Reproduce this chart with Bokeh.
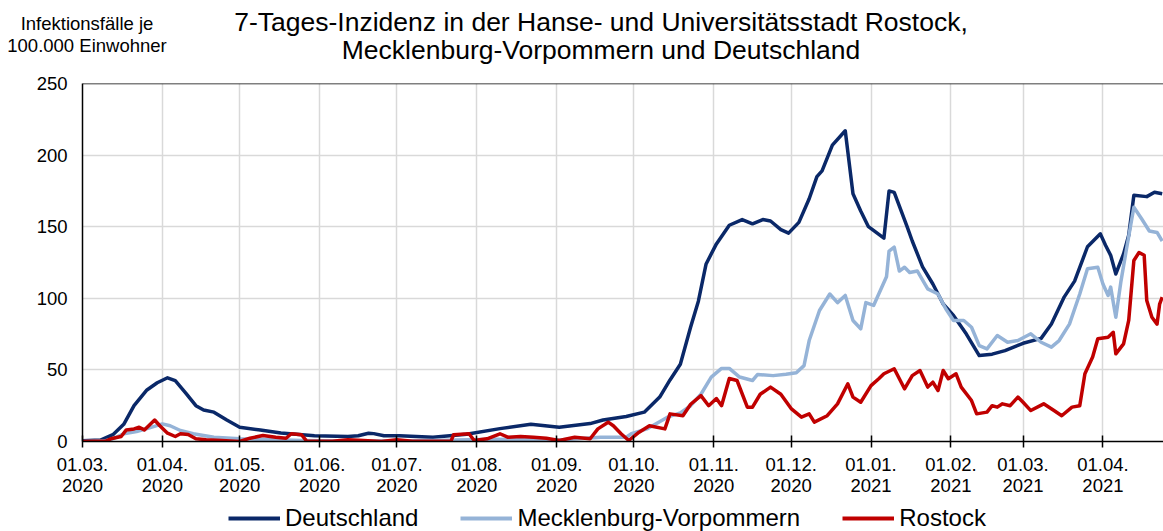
import pandas as pd
from bokeh.plotting import figure
from bokeh.layouts import column
from bokeh.models import FixedTicker, Range1d, Legend, LegendItem, Span, Div
from bokeh.embed import file_html
from bokeh.resources import INLINE

# ---------------- data ----------------
start_date = "2020-03-01"
end_date = "2021-04-24"

month_starts = ["2020-03-01", "2020-04-01", "2020-05-01", "2020-06-01", "2020-07-01",
                "2020-08-01", "2020-09-01", "2020-10-01", "2020-11-01", "2020-12-01",
                "2021-01-01", "2021-02-01", "2021-03-01", "2021-04-01"]
month_labels = ["01.03.\n2020", "01.04.\n2020", "01.05.\n2020", "01.06.\n2020", "01.07.\n2020",
                "01.08.\n2020", "01.09.\n2020", "01.10.\n2020", "01.11.\n2020", "01.12.\n2020",
                "01.01.\n2021", "01.02.\n2021", "01.03.\n2021", "01.04.\n2021"]
y_ticks = [0, 50, 100, 150, 200, 250]

de_dates = ["2020-03-01", "2020-03-08", "2020-03-13", "2020-03-17", "2020-03-21", "2020-03-26",
            "2020-03-30", "2020-04-03", "2020-04-06", "2020-04-10", "2020-04-14", "2020-04-17",
            "2020-04-21", "2020-04-26", "2020-05-01", "2020-05-09", "2020-05-17", "2020-05-30",
            "2020-06-12", "2020-06-16", "2020-06-20", "2020-06-22", "2020-06-26", "2020-07-02",
            "2020-07-15", "2020-07-28", "2020-08-10", "2020-08-22", "2020-09-02", "2020-09-14",
            "2020-09-19", "2020-09-28", "2020-10-05", "2020-10-11", "2020-10-15", "2020-10-19",
            "2020-10-23", "2020-10-26", "2020-10-29", "2020-11-02", "2020-11-07", "2020-11-12",
            "2020-11-16", "2020-11-20", "2020-11-23", "2020-11-27", "2020-11-30", "2020-12-04",
            "2020-12-08", "2020-12-11", "2020-12-13", "2020-12-17", "2020-12-22", "2020-12-25",
            "2020-12-28", "2020-12-31", "2021-01-06", "2021-01-08", "2021-01-10", "2021-01-15",
            "2021-01-17", "2021-01-21", "2021-01-25", "2021-01-29", "2021-02-02", "2021-02-07",
            "2021-02-12", "2021-02-17", "2021-02-22", "2021-03-01", "2021-03-08", "2021-03-12",
            "2021-03-17", "2021-03-21", "2021-03-26", "2021-03-31", "2021-04-02", "2021-04-04",
            "2021-04-06", "2021-04-09", "2021-04-11", "2021-04-13", "2021-04-18", "2021-04-21",
            "2021-04-24"]
de_vals = [0.5, 1, 5, 12, 25, 36, 41, 44.5, 42.5, 34, 25, 22, 20.5, 15, 10, 8, 6, 4,
           3.5, 4, 5.8, 5.5, 4, 4, 3, 5, 9, 12, 10, 12.5, 15, 17.5, 20.5, 31, 43, 54,
           80, 98, 124, 138, 151, 155, 152, 155, 154, 148, 145.5, 153, 169.5, 185, 189, 207,
           217, 173, 161, 150, 142, 175, 174, 150, 140, 122, 110, 96, 88, 75, 60, 61, 63.5,
           68.6, 72, 82, 101, 112, 136, 145, 137, 130, 117, 131, 144, 172, 171, 174, 173]

mv_dates = ["2020-03-01", "2020-03-10", "2020-03-13", "2020-03-17", "2020-03-22", "2020-03-27",
            "2020-04-01", "2020-04-04", "2020-04-08", "2020-04-13", "2020-04-21", "2020-05-01",
            "2020-05-12", "2020-05-25", "2020-06-09", "2020-07-09", "2020-08-08", "2020-09-02",
            "2020-09-18", "2020-09-28", "2020-09-30", "2020-10-06", "2020-10-14", "2020-10-19",
            "2020-10-23", "2020-10-27", "2020-10-31", "2020-11-04", "2020-11-07", "2020-11-11",
            "2020-11-16", "2020-11-18", "2020-11-24", "2020-11-29", "2020-12-03", "2020-12-06",
            "2020-12-08", "2020-12-12", "2020-12-16", "2020-12-19", "2020-12-22", "2020-12-25",
            "2020-12-28", "2020-12-30", "2021-01-02", "2021-01-05", "2021-01-07", "2021-01-08",
            "2021-01-10", "2021-01-12", "2021-01-14", "2021-01-16", "2021-01-19", "2021-01-23",
            "2021-01-27", "2021-01-30", "2021-02-02", "2021-02-06", "2021-02-09", "2021-02-12",
            "2021-02-15", "2021-02-19", "2021-02-23", "2021-02-27", "2021-03-04", "2021-03-08",
            "2021-03-12", "2021-03-15", "2021-03-19", "2021-03-23", "2021-03-26", "2021-03-30",
            "2021-04-01", "2021-04-03", "2021-04-04", "2021-04-06", "2021-04-08", "2021-04-10",
            "2021-04-13", "2021-04-16", "2021-04-19", "2021-04-22", "2021-04-24"]
mv_vals = [0, 0.5, 2, 5.4, 7, 9.5, 12.3, 11, 7.7, 5.4, 3, 1.9, 1.4, 0.7, 0.3, 0.5, 1.5, 1,
           3, 3, 5.4, 8.8, 17, 20, 25, 33, 45, 51, 51, 45, 42.6, 46.8, 46, 47, 48, 53,
           70.5, 91.5, 103, 97, 102, 84.5, 78.7, 97, 95, 107, 115, 133, 135.7, 119, 121.7, 118,
           119, 106.6, 103, 92.7, 84.5, 84.5, 79.8, 67, 64.7, 74, 69.3, 70.5, 75.2, 69.3,
           65.9, 70.5, 82, 103, 120.6, 121.7, 110, 102, 107.8, 86.8, 112, 133, 163.6, 155.5,
           147, 146, 140]

hro_dates = ["2020-03-01", "2020-03-10", "2020-03-12", "2020-03-16", "2020-03-18", "2020-03-21",
             "2020-03-23", "2020-03-25", "2020-03-29", "2020-03-31", "2020-04-03", "2020-04-06",
             "2020-04-08", "2020-04-11", "2020-04-14", "2020-04-18", "2020-04-24", "2020-05-01",
             "2020-05-05", "2020-05-10", "2020-05-15", "2020-05-19", "2020-05-21", "2020-05-25",
             "2020-05-27", "2020-06-06", "2020-06-12", "2020-06-18", "2020-06-25", "2020-07-01",
             "2020-07-07", "2020-07-22", "2020-07-23", "2020-07-29", "2020-07-31", "2020-08-05",
             "2020-08-10", "2020-08-13", "2020-08-18", "2020-08-23", "2020-08-28", "2020-09-02",
             "2020-09-08", "2020-09-14", "2020-09-17", "2020-09-21", "2020-09-23", "2020-09-26",
             "2020-09-29", "2020-10-03", "2020-10-07", "2020-10-13", "2020-10-15", "2020-10-20",
             "2020-10-23", "2020-10-27", "2020-10-30", "2020-11-02", "2020-11-04", "2020-11-07",
             "2020-11-10", "2020-11-14", "2020-11-16", "2020-11-19", "2020-11-23", "2020-11-27",
             "2020-12-01", "2020-12-05", "2020-12-08", "2020-12-10", "2020-12-15", "2020-12-19",
             "2020-12-23", "2020-12-25", "2020-12-28", "2021-01-01", "2021-01-04", "2021-01-06",
             "2021-01-10", "2021-01-14", "2021-01-17", "2021-01-20", "2021-01-23", "2021-01-25",
             "2021-01-27", "2021-01-29", "2021-01-31", "2021-02-03", "2021-02-05", "2021-02-09",
             "2021-02-11", "2021-02-15", "2021-02-17", "2021-02-19", "2021-02-21", "2021-02-24",
             "2021-02-27", "2021-03-01", "2021-03-04", "2021-03-09", "2021-03-13", "2021-03-16",
             "2021-03-20", "2021-03-23", "2021-03-25", "2021-03-28", "2021-03-30", "2021-04-03",
             "2021-04-05", "2021-04-06", "2021-04-09", "2021-04-11", "2021-04-13", "2021-04-15",
             "2021-04-17", "2021-04-18", "2021-04-20", "2021-04-22", "2021-04-23", "2021-04-24"]
hro_vals = [0, 0.3, 1.9, 3.5, 8.1, 8.8, 10, 8.1, 15, 11, 5.8, 3.5, 5.4, 4.9, 1.9, 1.2, 0.7, 0,
            2.3, 4.2, 3, 2.3, 5.4, 4.7, 0.2, 0.2, 1.2, 0.7, 0, 1.2, 0.2, 0.2, 4.7, 5.4, 0.7, 1.9,
            5.4, 3, 3.5, 3, 2.3, 0.7, 3, 1.9, 8.8, 13.5, 11, 5.4, 0.7, 6.5, 11, 8.8, 19.3, 18,
            26, 32, 25, 30, 25, 44, 42.6, 24, 24, 33, 38, 33, 23, 17, 19.3, 13.5, 18, 26.3,
            40.3, 31, 27.4, 39, 43.8, 47.3, 50.8, 36.8, 46, 49.6, 38, 41.4, 35.6, 49.6, 43.8, 47.3,
            38, 28.6, 19.3, 20.5, 25, 24, 26.3, 25, 31, 27.4, 21.6, 26.3, 21.6, 18, 24, 25,
            47.3, 59, 71.7, 72.8, 76.3, 61.2, 68.2, 84.5, 126.4, 132, 130, 98.5, 86.8, 82, 96, 100.8]

series_names = ["Deutschland", "Mecklenburg-Vorpommern", "Rostock"]
series_colors = ["#0A2868", "#95B3D7", "#C00000"]

title_lines = ["7-Tages-Inzidenz in der Hanse- und Universitätsstadt Rostock,",
               "Mecklenburg-Vorpommern und Deutschland"]
ylabel_lines = ["Infektionsfälle je", "100.000 Einwohner"]

# ---------------- helpers ----------------
t0 = pd.Timestamp(start_date)


def to_days(dates):
    return [(pd.Timestamp(d) - t0).days for d in dates]


FONT = "Liberation Sans"
W = 1163
HEAD_H = 68
TOP_PAD = 83 - HEAD_H
LEFT = 82
FRAME_W = W - LEFT
FRAME_H = 358

# ---------------- header: title + y-axis caption ----------------
head_html = (
    f'<div style="position:relative;width:{W}px;height:{HEAD_H}px;'
    f'font-family:\'{FONT}\';color:black;">'
    f'<div style="position:absolute;left:201px;top:8px;width:800px;text-align:center;'
    f'font-size:26.5px;line-height:28px;white-space:nowrap;">'
    f'{title_lines[0]}<br>{title_lines[1]}</div>'
    f'<div style="position:absolute;left:0px;top:12.75px;width:174px;text-align:center;'
    f'font-size:18.5px;line-height:22.5px;white-space:nowrap;">'
    f'{ylabel_lines[0]}<br>{ylabel_lines[1]}</div>'
    f'</div>'
)
head = Div(text=head_html, width=W, height=HEAD_H, margin=(0, 0, 0, 0))

# ---------------- main chart ----------------
month_x = to_days(month_starts)
x_end = (pd.Timestamp(end_date) - t0).days + 0.5

p = figure(frame_width=FRAME_W, frame_height=FRAME_H, min_border_left=LEFT, min_border_top=TOP_PAD,
           min_border_right=0, min_border_bottom=0,
           x_range=Range1d(0, x_end), y_range=Range1d(0, 250),
           output_backend="svg", toolbar_location=None)
p.outline_line_color = None
p.background_fill_color = "white"
p.border_fill_color = "white"

p.xaxis.ticker = FixedTicker(ticks=month_x)
p.xaxis.major_label_overrides = {x: lbl for x, lbl in zip(month_x, month_labels)}
p.xaxis.major_tick_in = 6
p.xaxis.major_tick_out = 6
p.xaxis.minor_tick_line_color = None
p.xaxis.major_tick_line_width = 1.5
p.xaxis.major_tick_line_color = "black"
p.xaxis.axis_line_color = "black"
p.xaxis.axis_line_width = 1.5
p.xaxis.major_label_standoff = 6
p.xaxis.major_label_text_font = FONT
p.xaxis.major_label_text_font_size = "18.5px"
p.xaxis.major_label_text_line_height = 1.0
p.xaxis.major_label_text_color = "black"

p.yaxis.ticker = FixedTicker(ticks=y_ticks)
p.yaxis.major_tick_in = 0
p.yaxis.major_tick_out = 0
p.yaxis.minor_tick_line_color = None
p.yaxis.axis_line_color = "black"
p.yaxis.axis_line_width = 1.5
p.yaxis.major_label_standoff = 15
p.yaxis.major_label_text_font = FONT
p.yaxis.major_label_text_font_size = "18.5px"
p.yaxis.major_label_text_color = "black"

p.xgrid.grid_line_color = "#D9D9D9"
p.xgrid.grid_line_width = 1.5
p.ygrid.grid_line_color = "#D9D9D9"
p.ygrid.grid_line_width = 1.5

p.add_layout(Span(location=250, dimension="width", line_color="black", line_width=1.5))

all_dates = [de_dates, mv_dates, hro_dates]
all_vals = [de_vals, mv_vals, hro_vals]
for d, v, c in zip(all_dates, all_vals, series_colors):
    p.line(to_days(d), v, line_color=c, line_width=3.5, line_join="round")

# ---------------- footer: legend (same series, drawn outside its visible range) ----------------
FOOT_H = 34
foot = figure(frame_width=FRAME_W, frame_height=FOOT_H, min_border_left=LEFT, min_border_right=0,
              min_border_top=0, min_border_bottom=0,
              x_range=Range1d(0, x_end), y_range=Range1d(1000, 1001),
              x_axis_location=None, y_axis_location=None,
              output_backend="svg", toolbar_location=None)
foot.outline_line_color = None
foot.xgrid.visible = False
foot.ygrid.visible = False
leg_renderers = [foot.line(to_days(d), v, line_color=c, line_width=4)
                 for d, v, c in zip(all_dates, all_vals, series_colors)]
legend = Legend(items=[LegendItem(label=n, renderers=[r]) for n, r in zip(series_names, leg_renderers)],
                orientation="horizontal", location=(146, 0),
                label_text_font=FONT, label_text_font_size="24px", label_text_color="black",
                glyph_width=52, glyph_height=28, label_height=28, label_standoff=5, spacing=42,
                padding=0, margin=0, border_line_color=None, background_fill_alpha=0)
foot.add_layout(legend, "center")

layout = column(head, p, foot, spacing=0)
open("out.html", "w").write(file_html(layout, INLINE))
